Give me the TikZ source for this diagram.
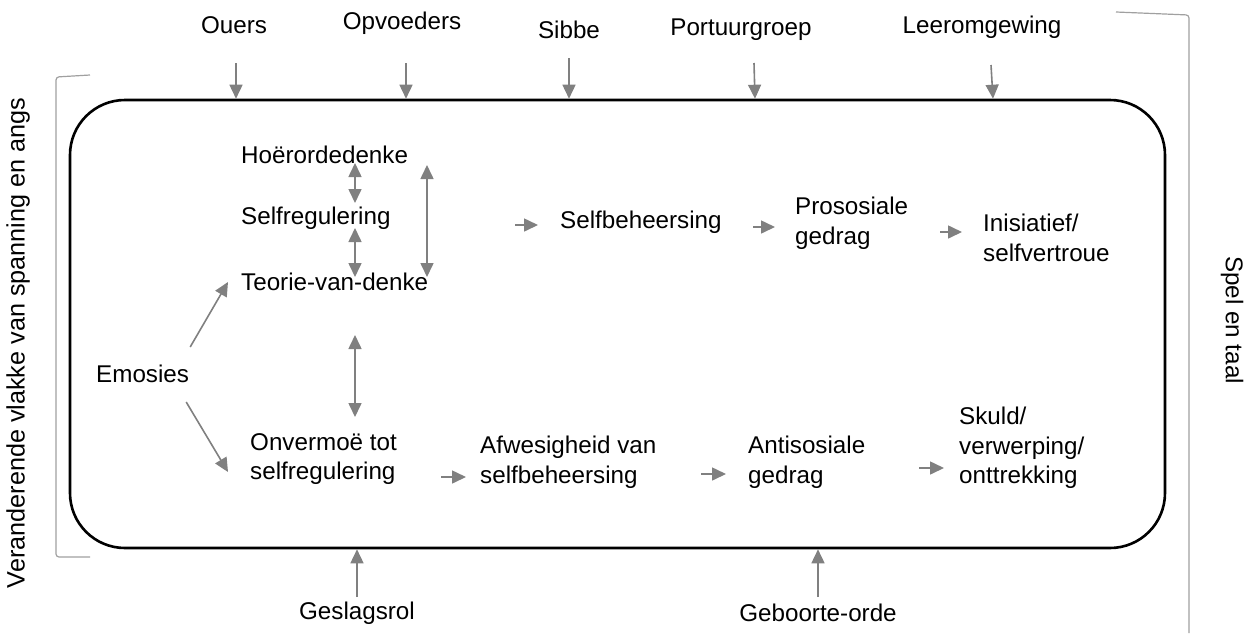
\documentclass[tikz,border=0pt]{standalone}
\usepackage{fontspec}
\setmainfont{Liberation Sans}
\usetikzlibrary{arrows.meta}
\definecolor{arrgray}{HTML}{808080}
\definecolor{brgray}{HTML}{A0A0A0}
\tikzset{
  lbl/.style={inner sep=0pt, font=\fontsize{24.2}{29.5}\selectfont, align=left},
  txt/.style={lbl, anchor=west},
  arr/.style={draw=arrgray, line width=1.6pt, -{Triangle[length=14pt,width=13pt]}},
  darr/.style={draw=arrgray, line width=1.6pt, {Triangle[length=14pt,width=13pt]}-{Triangle[length=14pt,width=13pt]}},
  bracket/.style={draw=brgray, line width=1.2pt, rounded corners=3pt},
}
\begin{document}
\begin{tikzpicture}[x=1pt,y=-1pt]
\useasboundingbox (0,0) rectangle (1254,633);
% frame
\node[draw, line width=2.6pt, rounded corners=55pt, minimum width=1095pt, minimum height=448pt, inner sep=0pt] (frame) at (617.5,324) {};
% brackets
\draw[bracket] (90,75) -- (56,77) -- (56,557) -- (90,557);
\draw[bracket] (1116,12) -- (1189,15) -- (1189,633);
% side labels
\node[lbl, rotate=90, font=\fontsize{25.2}{30}\selectfont] (links) at (18,343) {Veranderende vlakke van spanning en angs};
\node[lbl, rotate=-90] (regs) at (1232,320) {Spel en taal};
% top labels
\node[lbl] (ouers) at (234,25) {Ouers};
\node[lbl] (opv) at (402,23) {Opvoeders};
\node[lbl] (sibbe) at (569,30) {Sibbe};
\node[lbl] (port) at (741,30) {Portuurgroep};
\node[lbl] (leer) at (982,27) {Leeromgewing};
\coordinate (t1) at (236,63);
\coordinate (t2) at (406,63);
\coordinate (t3) at (569,58);
\coordinate (t4) at (754,63);
\coordinate (t5) at (991,65);
\draw[arr] (t1) -- (t1 |- frame.north);
\draw[arr] (t2) -- (t2 |- frame.north);
\draw[arr] (t3) -- (t3 |- frame.north);
\draw[arr] (t4) -- ([xshift=1pt]t4 |- frame.north);
\draw[arr] (t5) -- ([xshift=2pt]t5 |- frame.north);
% bottom labels
\node[lbl] (gesl) at (357,613) {Geslagsrol};
\node[lbl] (geb) at (818,613) {Geboorte-orde};
\coordinate (b1) at (357,597);
\coordinate (b2) at (818,597);
\draw[arr] (b1) -- (b1 |- frame.south);
\draw[arr] (b2) -- (b2 |- frame.south);
% inner nodes
\node[txt] (hoer) at (241,155) {Hoërordedenke};
\node[txt] (selfreg) at (241,218) {Selfregulering};
\node[txt] (teorie) at (241,282) {Teorie-van-denke};
\node[txt] (emo) at (96,374) {Emosies};
\node[txt] (onv) at (250,459) {Onvermoë tot\\selfregulering};
\node[txt] (afw) at (480,462) {Afwesigheid van\\selfbeheersing};
\node[txt] (anti) at (748,462) {Antisosiale\\gedrag};
\node[txt] (skuld) at (959,448) {Skuld/\\verwerping/\\onttrekking};
\node[txt] (selfbeh) at (560,222) {Selfbeheersing};
\node[txt] (pros) at (795,223) {Prososiale\\gedrag};
\node[txt] (inis) at (983,238) {Inisiatief/\\selfvertroue};
% vertical double arrows
\draw[darr] (355,163) -- (355,203);
\draw[darr] (355,228) -- (355,277);
\draw[darr] (427,165) -- (427,277);
\draw[darr] (355,335) -- (355,417);
% emosies arrows
\draw[arr] ([xshift=1pt,yshift=27pt]emo.east) -- ([xshift=-13pt,yshift=0pt]teorie.west);
\draw[arr] ([xshift=-3pt,yshift=-28pt]emo.east) -- ([xshift=-22pt,yshift=-13pt]onv.west);
% short horizontal arrows
\draw[arr] ([xshift=-45pt,yshift=-3pt]selfbeh.west) -- ([xshift=-22pt,yshift=-3pt]selfbeh.west);
\draw[arr] ([xshift=-42pt,yshift=-4pt]pros.west) -- ([xshift=-20pt,yshift=-4pt]pros.west);
\draw[arr] ([xshift=-43pt,yshift=6pt]inis.west) -- ([xshift=-21pt,yshift=6pt]inis.west);
\draw[arr] ([xshift=-39pt,yshift=-15pt]afw.west) -- ([xshift=-14pt,yshift=-15pt]afw.west);
\draw[arr] ([xshift=-47pt,yshift=-12pt]anti.west) -- ([xshift=-22pt,yshift=-12pt]anti.west);
\draw[arr] ([xshift=-40pt,yshift=-20pt]skuld.west) -- ([xshift=-15pt,yshift=-20pt]skuld.west);
\end{tikzpicture}
\end{document}
